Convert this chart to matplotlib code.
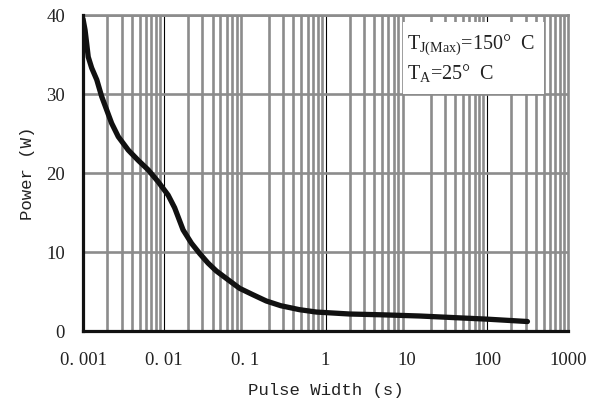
import matplotlib
matplotlib.use("Agg")
import matplotlib.pyplot as plt
from matplotlib.ticker import FixedLocator, NullFormatter
from matplotlib.patches import Rectangle

# Single pulse maximum power curve
pulse_width = [0.001, 0.00106, 0.00111, 0.00116, 0.00128, 0.00148, 0.0017,
               0.00196, 0.00226, 0.00273, 0.00363, 0.00482, 0.0064, 0.0085,
               0.0113, 0.0136, 0.0173, 0.022, 0.0278, 0.0352, 0.0446, 0.0621,
               0.0867, 0.126, 0.185, 0.28, 0.477, 0.77, 2.0, 5.0, 14.5, 30,
               100, 315]
power = [39.5, 38.1, 36.4, 34.7, 33.3, 31.8, 29.7,
         28.0, 26.3, 24.6, 22.9, 21.6, 20.4, 18.9,
         17.2, 15.6, 12.8, 11.1, 9.8, 8.6, 7.6, 6.5,
         5.4, 4.6, 3.8, 3.2, 2.7, 2.4, 2.15, 2.05, 1.9, 1.75,
         1.5, 1.2]

x_ticks = [0.001, 0.01, 0.1, 1, 10, 100, 1000]
x_tick_labels = ["0. 001", "0. 01", "0. 1", "1", "10", "100", "1000"]
y_ticks = [0, 10, 20, 30, 40]
black_decades = [0.01, 1, 100]

serif = "Liberation Serif"
mono = "Liberation Mono"
plt.rcParams["mathtext.fontset"] = "custom"
plt.rcParams["mathtext.rm"] = serif

grey = "#8c8c8c"
ink = "#222222"

fig = plt.figure(figsize=(5.9, 4.09), dpi=100)
ax = fig.add_axes([0.1407, 0.1907, 0.822, 0.7726])

ax.set_xscale("log")
ax.set_xlim(0.001, 1000)
ax.set_ylim(0, 40)

# grid: grey lines at 2..9 of each decade and at 0.1 / 10, thin black at the rest
minor = [m * d for d in [0.001, 0.01, 0.1, 1, 10, 100] for m in range(2, 10)]
minor += [0.1, 10]
ax.xaxis.set_minor_locator(FixedLocator(minor))
ax.xaxis.set_minor_formatter(NullFormatter())
ax.grid(which="minor", axis="x", color=grey, lw=1.9)
ax.grid(which="major", axis="y", color=grey, lw=1.9)
for d in black_decades:
    ax.axvline(d, color="black", lw=0.8, zorder=1.5)

ax.set_xticks(x_ticks)
ax.set_xticklabels(x_tick_labels)
ax.set_yticks(y_ticks)
ax.tick_params(which="both", length=0)
ax.tick_params(axis="x", pad=15, labelsize=13.5)
ax.tick_params(axis="y", pad=13, labelsize=13.5)
for lab in ax.get_xticklabels() + ax.get_yticklabels():
    lab.set_fontfamily(serif)
    lab.set_color(ink)

ax.plot(pulse_width, power, color="#111111", lw=3.8, solid_capstyle="round",
        solid_joinstyle="round", zorder=4)

for s in ["left", "bottom"]:
    ax.spines[s].set_linewidth(2.3)
    ax.spines[s].set_color("#111111")
for s in ["top", "right"]:
    ax.spines[s].set_linewidth(1.9)
    ax.spines[s].set_color(grey)
ax.spines["left"].set_zorder(5)
ax.spines["bottom"].set_zorder(5)

# condition box
ax.add_patch(Rectangle((0.66, 0.75), 0.29, 0.228, transform=ax.transAxes,
                       facecolor="white", edgecolor="none", zorder=3))
ax.text(0.668, 0.905, r"T$_{\mathrm{J(Max)}}$=150°  C", transform=ax.transAxes,
        fontfamily=serif, fontsize=14.5, color=ink, va="center", zorder=3.5)
ax.text(0.668, 0.815, r"T$_{\mathrm{A}}$=25°  C", transform=ax.transAxes,
        fontfamily=serif, fontsize=14.5, color=ink, va="center", zorder=3.5)

ax.set_xlabel("Pulse Width (s)", fontfamily=mono, fontsize=12.5, color=ink,
              labelpad=10)
ax.set_ylabel("Power (W)", fontfamily=mono, fontsize=12.5, color=ink,
              labelpad=8)

fig.savefig("out.png", dpi=100)
